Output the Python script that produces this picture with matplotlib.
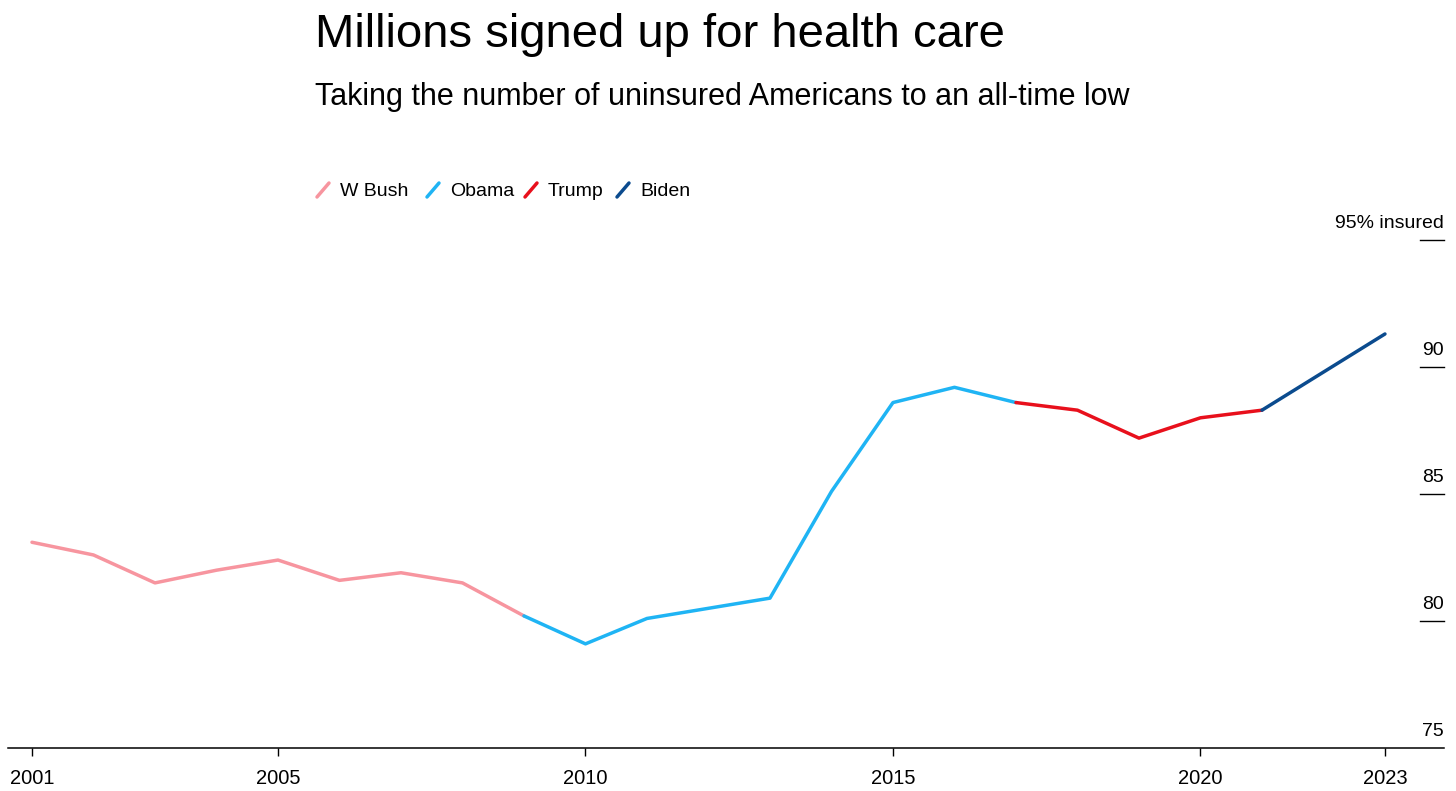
import matplotlib.pyplot as plt
from matplotlib.lines import Line2D

plt.rcParams['font.family'] = ['Liberation Sans', 'DejaVu Sans']

# share of Americans insured, %
years = [2001, 2002, 2003, 2004, 2005, 2006, 2007, 2008, 2009, 2010, 2011,
         2012, 2013, 2014, 2015, 2016, 2017, 2018, 2019, 2020, 2021, 2023]
insured = [83.1, 82.6, 81.5, 82.0, 82.4, 81.6, 81.9, 81.5, 80.2, 79.1, 80.1,
           80.5, 80.9, 85.1, 88.6, 89.2, 88.6, 88.3, 87.2, 88.0, 88.3, 91.3]

presidents = ['W Bush', 'Obama', 'Trump', 'Biden']
terms = [(2001, 2009), (2009, 2017), (2017, 2021), (2021, 2023)]
colors = ['#f7959f', '#1fb4f4', '#e8101c', '#0b4b8e']

y_ticks = [75, 80, 85, 90, 95]
y_labels = ['75', '80', '85', '90', '95% insured']
x_ticks = [2001, 2005, 2010, 2015, 2020, 2023]

W, H = 1456, 791
fig = plt.figure(figsize=(W / 100, H / 100), dpi=100)
ax = fig.add_axes([8 / W, 1 - 748 / H, (1444 - 8) / W, (748 - 240) / H])

for (start, end), c in zip(terms, colors):
    xs = [y for y in years if start <= y <= end]
    ys = [insured[years.index(y)] for y in xs]
    ax.plot(xs, ys, color=c, lw=2.5, solid_capstyle='round', solid_joinstyle='round')

ax.set_xlim(2000.61, 2023.96)
ax.set_ylim(75, 95)

for s in ['top', 'right', 'left']:
    ax.spines[s].set_visible(False)
ax.spines['bottom'].set_linewidth(1.1)
ax.set_yticks([])
ax.set_xticks(x_ticks)
ax.set_xticklabels([str(x) for x in x_ticks])
ax.tick_params(axis='x', length=6, width=1, pad=9, labelsize=14.5)

# right-hand gridline stubs with labels sitting on top
trans = ax.get_yaxis_transform()
for v, lab in zip(y_ticks, y_labels):
    if v != 75:
        ax.plot([0.9833, 1.0], [v, v], color='black', lw=1, transform=trans, clip_on=False)
    ax.annotate(lab, xy=(1.0, v), xycoords=trans, xytext=(0, 6), textcoords='offset points',
                ha='right', va='bottom', fontsize=14)

fig.text(315 / W, 1 - 35 / H, 'Millions signed up for health care',
         fontsize=34, va='center', ha='left')
fig.text(315 / W, 1 - 97 / H, 'Taking the number of uninsured Americans to an all-time low',
         fontsize=22, va='center', ha='left')

# legend
leg_x = [317, 427, 525, 617]
for x0, name, c in zip(leg_x, presidents, colors):
    fig.add_artist(Line2D([x0 / W, (x0 + 12) / W], [1 - 197 / H, 1 - 183 / H],
                          color=c, lw=2.5, solid_capstyle='round'))
    fig.text((x0 + 23) / W, 1 - 191 / H, name, fontsize=14, va='center', ha='left')

fig.savefig('out.png', dpi=100, facecolor='white')
